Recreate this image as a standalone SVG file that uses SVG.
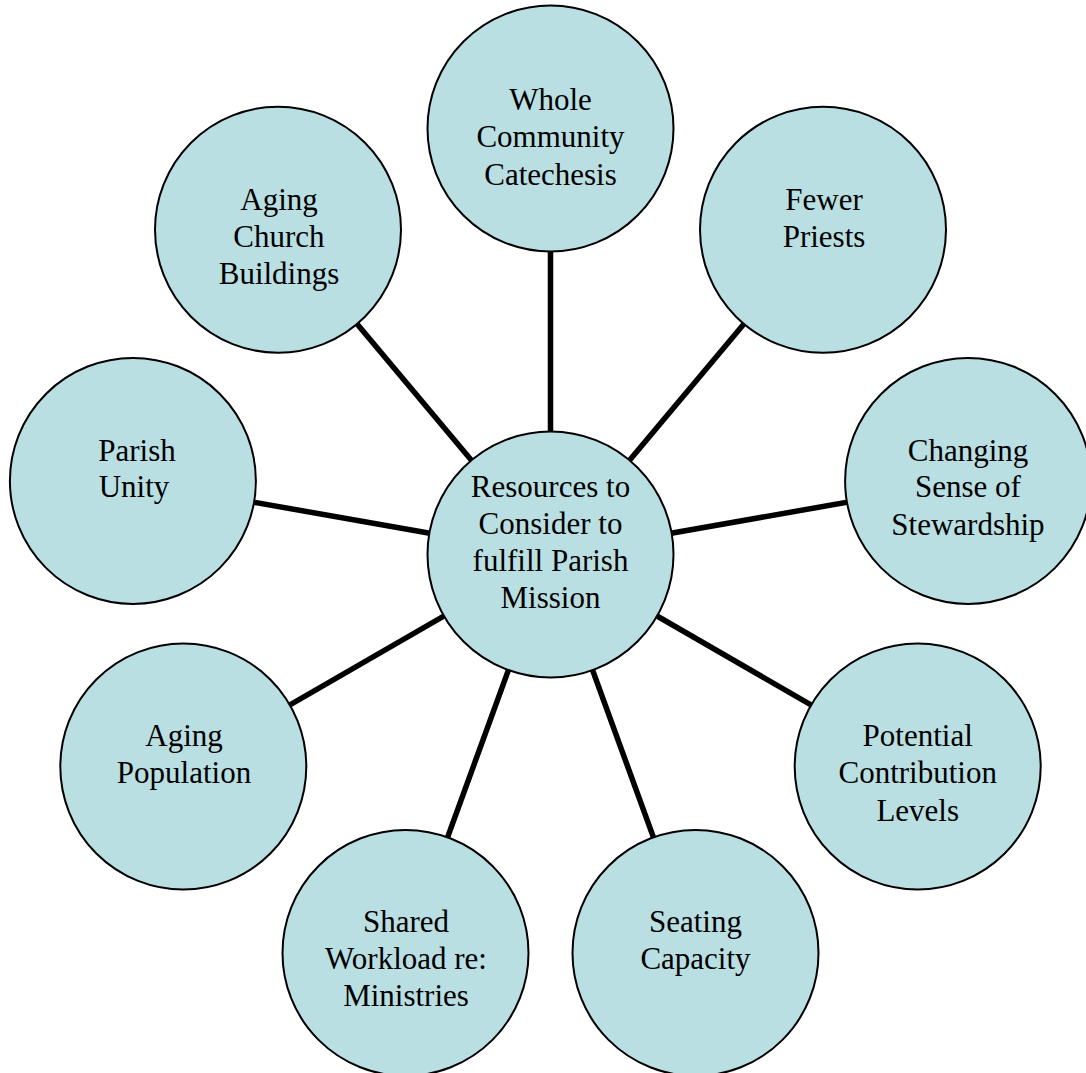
<svg xmlns="http://www.w3.org/2000/svg" width="1086" height="1073" viewBox="0 0 1086 1073">
  <style>
    .node circle { fill: #B9DFE2; stroke: #000; stroke-width: 2; }
    .node text { font-family: "Liberation Serif", "Times New Roman", serif; font-size: 31px; fill: #000; text-anchor: middle; }
    .links line { stroke: #000; stroke-width: 5.5; }
  </style>
  <rect width="1086" height="1073" fill="#fff"/>

  <!-- spokes from the hub to each surrounding node -->
  <g id="connectors" class="links">
    <line x1="550.5" y1="554.5" x2="550.5" y2="130.5"/>
    <line x1="550.5" y1="554.5" x2="823" y2="229.7"/>
    <line x1="550.5" y1="554.5" x2="968.1" y2="480.9"/>
    <line x1="550.5" y1="554.5" x2="917.7" y2="766.5"/>
    <line x1="550.5" y1="554.5" x2="695.5" y2="952.9"/>
    <line x1="550.5" y1="554.5" x2="405.5" y2="952.9"/>
    <line x1="550.5" y1="554.5" x2="183.3" y2="766.5"/>
    <line x1="550.5" y1="554.5" x2="132.9" y2="480.9"/>
    <line x1="550.5" y1="554.5" x2="278" y2="229.7"/>
  </g>

  <g id="hub" class="node">
    <circle cx="550.5" cy="554.5" r="123"/>
    <text x="550.5" y="496.5">Resources to</text>
    <text x="550.5" y="533.5">Consider to</text>
    <text x="550.5" y="571">fulfill Parish</text>
    <text x="550.5" y="608">Mission</text>
  </g>

  <g id="whole-community-catechesis" class="node">
    <circle cx="550.5" cy="128.5" r="123"/>
    <text x="550.5" y="110">Whole</text>
    <text x="550.5" y="147">Community</text>
    <text x="550.5" y="185">Catechesis</text>
  </g>

  <g id="fewer-priests" class="node">
    <circle cx="823" cy="229.7" r="123"/>
    <text x="824" y="209.5">Fewer</text>
    <text x="824" y="246.5">Priests</text>
  </g>

  <g id="changing-sense-of-stewardship" class="node">
    <circle cx="968.1" cy="480.9" r="123"/>
    <text x="968" y="460.5">Changing</text>
    <text x="968" y="497">Sense of</text>
    <text x="968" y="535">Stewardship</text>
  </g>

  <g id="potential-contribution-levels" class="node">
    <circle cx="917.7" cy="766.5" r="123"/>
    <text x="917.7" y="746">Potential</text>
    <text x="917.7" y="783">Contribution</text>
    <text x="917.7" y="821">Levels</text>
  </g>

  <g id="seating-capacity" class="node">
    <circle cx="695.5" cy="952.9" r="123"/>
    <text x="695.5" y="932">Seating</text>
    <text x="695.5" y="969">Capacity</text>
  </g>

  <g id="shared-workload" class="node">
    <circle cx="405.5" cy="952.9" r="123"/>
    <text x="406" y="932">Shared</text>
    <text x="406" y="969">Workload re:</text>
    <text x="406" y="1006">Ministries</text>
  </g>

  <g id="aging-population" class="node">
    <circle cx="183.3" cy="766.5" r="123"/>
    <text x="184" y="746">Aging</text>
    <text x="184" y="783">Population</text>
  </g>

  <g id="parish-unity" class="node">
    <circle cx="132.9" cy="480.9" r="123"/>
    <text x="137" y="460.5">Parish</text>
    <text x="134" y="497">Unity</text>
  </g>

  <g id="aging-church-buildings" class="node">
    <circle cx="278" cy="229.7" r="123"/>
    <text x="279" y="209.5">Aging</text>
    <text x="279" y="246.5">Church</text>
    <text x="279" y="284">Buildings</text>
  </g>
</svg>
